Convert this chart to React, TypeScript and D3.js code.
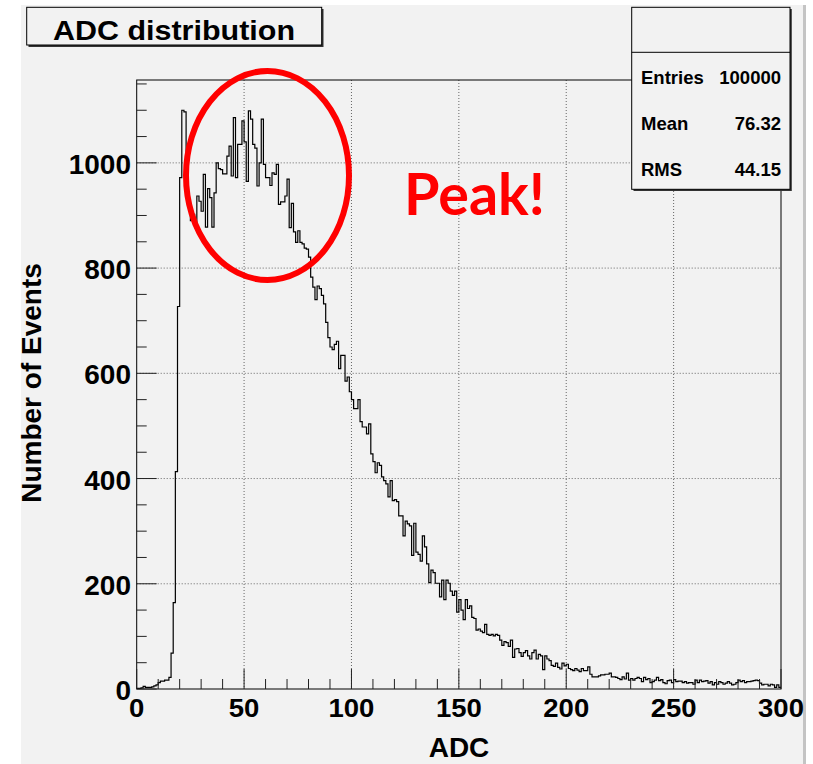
import React from "react";
import * as d3 from "d3";

// Histogram bin contents, one bin per ADC unit (0..300)
const countsRise = [1, 1, 2, 5, 3, 3, 3, 4, 6, 8, 12, 15, 15, 17, 17, 22, 68, 164, 413, 727];
const countsPeak = [
  972, 1100, 1097, 959, 918, 890, 902, 877, 937, 927,
  908, 978, 878, 951, 934, 878, 943, 1000, 989, 987,
  979, 979, 1013, 1032, 975, 1086, 972, 1035, 1035, 1080,
  1040, 965, 1099, 1083, 1035, 1028, 956, 1000, 1083, 997,
  972, 972, 957, 981, 978, 997, 921, 926, 926, 937,
  969, 877, 923, 869, 849, 871, 849, 846, 838, 836,
  821, 783, 764, 740, 766, 761, 748, 732, 697, 668,
  650, 645, 655, 661, 609, 634, 634, 585, 593, 565,
];
const countsFall = [
  550, 533, 533, 550, 508, 498, 498, 485, 504, 447,
  432, 411, 430, 425, 403, 396, 390, 365, 396, 358,
  360, 356, 329, 329, 291, 319, 314, 310, 254, 315,
  260, 256, 243, 291, 270, 238, 202, 226, 221, 201,
  201, 175, 207, 170, 207, 201, 186, 178, 186, 146,
  170, 150, 132, 170, 153, 158, 136, 134, 112, 114,
  110, 107, 123, 104, 102, 104, 101, 104, 102, 93,
  83, 90, 88, 81, 93, 60, 76, 77, 69, 62,
  69, 73, 63, 57, 69, 74, 57, 66, 63, 37,
  63, 57, 54, 45, 43, 49, 41, 38, 49, 44,
];
const countsTail = [
  47, 39, 37, 35, 39, 36, 33, 39, 35, 35,
  42, 28, 23, 23, 23, 25, 27, 27, 28, 28,
  30, 23, 23, 22, 20, 18, 23, 19, 30, 17,
  20, 17, 20, 22, 20, 14, 22, 18, 20, 12,
  14, 17, 22, 16, 18, 12, 10, 16, 17, 12,
  18, 14, 15, 15, 12, 14, 11, 12, 12, 9,
  17, 12, 17, 14, 15, 16, 11, 14, 8, 12,
  9, 14, 12, 9, 11, 14, 11, 8, 9, 12,
  17, 14, 16, 12, 14, 14, 15, 16, 17, 16,
  11, 8, 9, 9, 6, 9, 8, 3, 8, 3,
];

const xTicks = [0, 50, 100, 150, 200, 250, 300];
const yTicks = [0, 200, 400, 600, 800, 1000];
const statLabels = ["Entries", "Mean", "RMS"];
const statValues = ["100000", "76.32", "44.15"];
const titleText = "ADC distribution";
const xTitle = "ADC";
const yTitle = "Number of Events";
const noteText = "Peak!";

const FONT = "'Liberation Sans', Arial, Helvetica, sans-serif";

export default function App() {
  const counts = [...countsRise, ...countsPeak, ...countsFall, ...countsTail];
  const left = 136.7, right = 781, top = 80, bottom = 689;
  const x = d3.scaleLinear().domain([0, 300]).range([left, right]);
  const y = d3.scaleLinear().domain([0, 1157.5]).range([bottom, top]);

  const pts: [number, number][] = counts.map((c, i) => [i, c]);
  pts.push([counts.length, counts[counts.length - 1]]);
  const line = d3
    .line<[number, number]>()
    .x((d) => x(d[0]))
    .y((d) => y(d[1]))
    .curve(d3.curveStepAfter);
  const histPath = line(pts) as string;

  const xMinor = d3.range(0, 301, 10).filter((v) => v % 50 !== 0);
  const yMinor = d3.range(0, 1151, 50).filter((v) => v % 200 !== 0);

  return (
    <svg
      width={813}
      height={764}
      style={{ position: "absolute", left: 0, top: 0, background: "#ffffff" }}
    >
      {/* canvas */}
      <rect x={21} y={5} width={782} height={759} fill="#f2f2f2" />
      <rect x={803} y={5} width={3} height={759} fill="#c4c4c4" />

      {/* grid */}
      {xTicks.slice(1, -1).map((v) => (
        <line key={"gx" + v} x1={x(v)} x2={x(v)} y1={top} y2={bottom}
          stroke="#666" strokeWidth={1} strokeDasharray="1,2" />
      ))}
      {yTicks.slice(1).map((v) => (
        <line key={"gy" + v} x1={left} x2={right} y1={y(v)} y2={y(v)}
          stroke="#666" strokeWidth={1} strokeDasharray="1,2" />
      ))}

      {/* histogram */}
      <path d={histPath} fill="none" stroke="#000" strokeWidth={1.2} />

      {/* frame */}
      <rect x={left} y={top} width={right - left} height={bottom - top}
        fill="none" stroke="#000" strokeWidth={1} />

      {/* ticks */}
      {xTicks.map((v) => (
        <line key={"tx" + v} x1={x(v)} x2={x(v)} y1={bottom} y2={bottom - 20} stroke="#222" />
      ))}
      {xMinor.map((v) => (
        <line key={"mx" + v} x1={x(v)} x2={x(v)} y1={bottom} y2={bottom - 10} stroke="#222" />
      ))}
      {yTicks.map((v) => (
        <line key={"ty" + v} x1={left} x2={left + 20} y1={y(v)} y2={y(v)} stroke="#222" />
      ))}
      {yMinor.map((v) => (
        <line key={"my" + v} x1={left} x2={left + 10} y1={y(v)} y2={y(v)} stroke="#222" />
      ))}

      {/* tick labels */}
      {xTicks.map((v) => (
        <text key={"lx" + v} transform={`translate(${x(v)},717) scale(1.1,1)`}
          textAnchor="middle" fontFamily={FONT} fontWeight="bold" fontSize={25} fill="#000">
          {v}
        </text>
      ))}
      {yTicks.map((v) => (
        <text key={"ly" + v} x={131} y={y(v) + 11} textAnchor="end"
          fontFamily={FONT} fontWeight="bold" fontSize={28} fill="#000">
          {v}
        </text>
      ))}

      {/* axis titles */}
      <text x={459} y={757} textAnchor="middle" fontFamily={FONT} fontWeight="bold" fontSize={28}>
        {xTitle}
      </text>
      <text transform="translate(41,383) rotate(-90)" textAnchor="middle"
        fontFamily={FONT} fontWeight="bold" fontSize={28}>
        {yTitle}
      </text>

      {/* title box */}
      <rect x={28.5} y={9} width={295} height={38} fill="#333" />
      <rect x={26.7} y={7.3} width={295} height={37.7} fill="#f2f2f2" stroke="#000" strokeWidth={1} />
      <text x={174} y={40} textAnchor="middle" fontFamily={FONT} fontWeight="bold" fontSize={27}
        textLength={242} lengthAdjust="spacingAndGlyphs">
        {titleText}
      </text>

      {/* stats box */}
      <rect x={633.5} y={9} width={158.3} height={182} fill="#333" />
      <rect x={631.7} y={7.3} width={158.3} height={182} fill="#f2f2f2" stroke="#000" strokeWidth={1} />
      <line x1={631.7} x2={790} y1={52.3} y2={52.3} stroke="#000" strokeWidth={1} />
      {statLabels.map((s, i) => (
        <text key={s} x={641} y={84.3 + i * 45.7} fontFamily={FONT} fontWeight="bold" fontSize={18.5}>
          {s}
        </text>
      ))}
      {statValues.map((s, i) => (
        <text key={s} x={781} y={84.3 + i * 45.7} textAnchor="end" fontFamily={FONT}
          fontWeight="bold" fontSize={18.5}>
          {s}
        </text>
      ))}

      {/* annotation */}
      <ellipse cx={267.5} cy={175.5} rx={81.5} ry={104.5} fill="none" stroke="#ff0000" strokeWidth={6} />
      <text x={404} y={215} fontFamily="Lato, 'Open Sans', sans-serif" fontWeight="bold" fontSize={58}
        fill="#ff0000" textLength={141} lengthAdjust="spacingAndGlyphs">
        {noteText}
      </text>
    </svg>
  );
}
